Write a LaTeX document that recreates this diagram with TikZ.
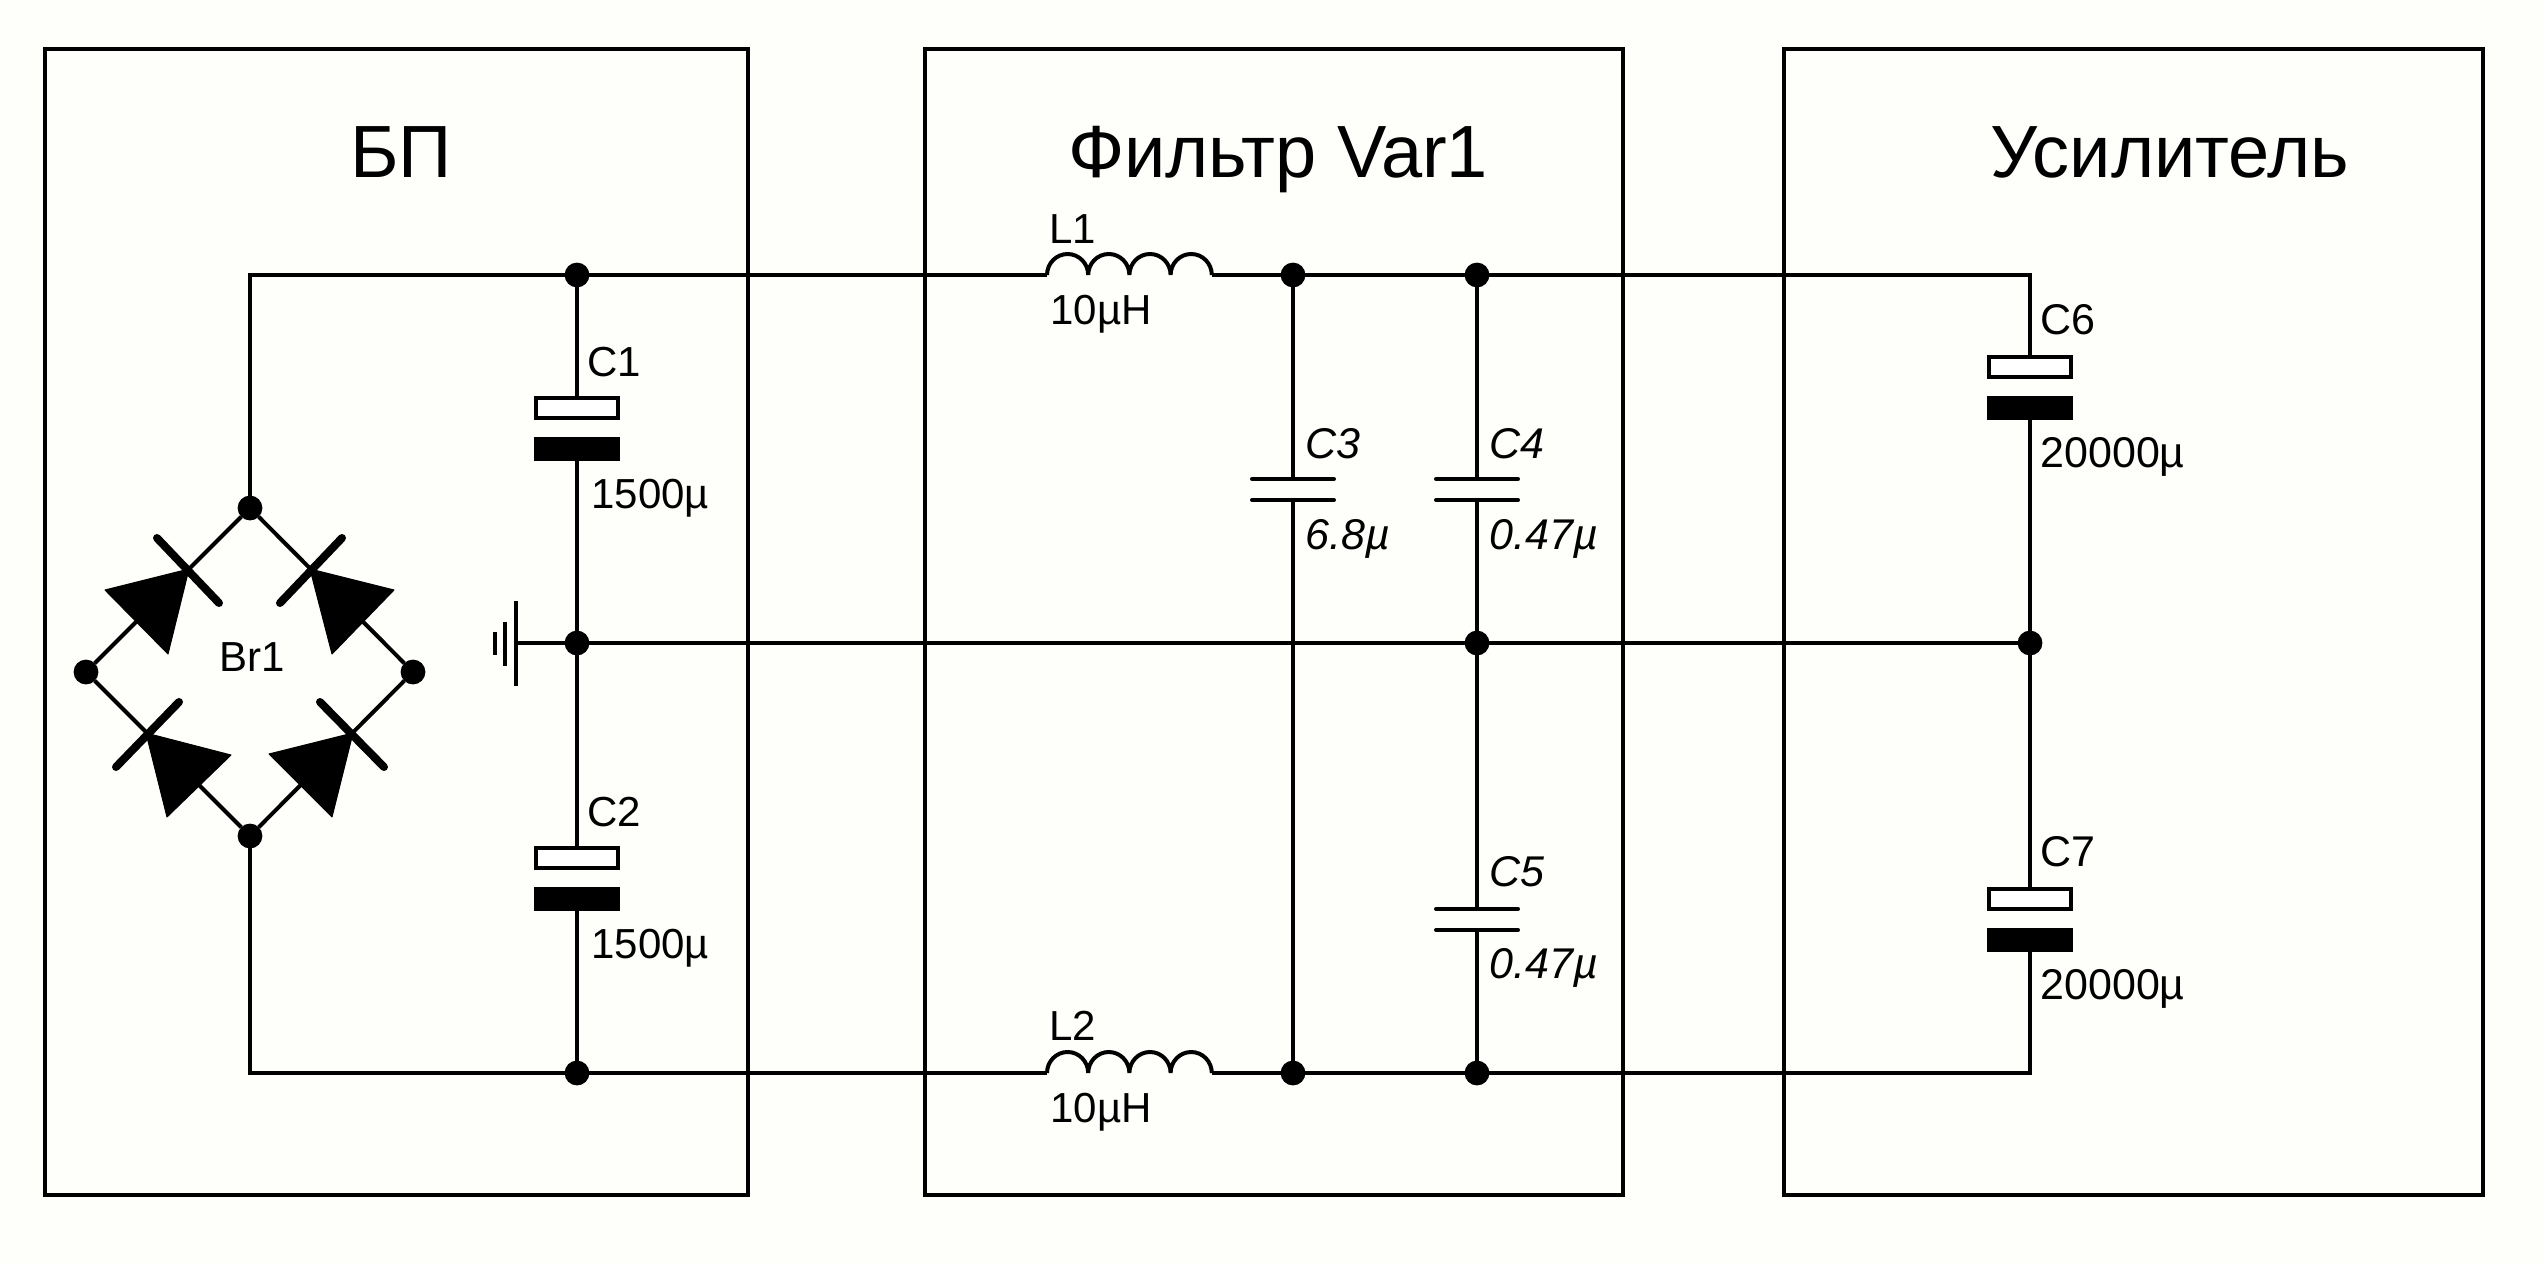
\documentclass[tikz,border=0pt]{standalone}
\usepackage{fontspec}
\setmainfont{Liberation Sans}
\definecolor{bgc}{RGB}{254,255,250}
\tikzset{
  wire/.style={line width=2pt,line cap=butt,line join=miter},
  dot/.style={circle,fill=black,draw=none,minimum size=12.4pt,inner sep=0pt,outer sep=0pt},
  capw/.style={rectangle,draw=black,fill=white,line width=2pt,minimum width=41pt,minimum height=10pt,inner sep=0pt,outer sep=1pt},
  capb/.style={rectangle,fill=black,minimum width=43pt,minimum height=12pt,inner sep=0pt,outer sep=0pt},
  plate/.style={line width=2pt,line cap=round},
  bar/.style={line width=4pt,line cap=round},
  tri/.style={fill=black,line join=round,line width=0.5pt,draw=black},
  title/.style={font=\fontsize{37}{43}\selectfont,anchor=base,inner sep=0pt},
  lab/.style={font=\fontsize{21.5}{25}\selectfont,anchor=base west,inner sep=0pt},
  slab/.style={font=\fontsize{21}{25}\selectfont,anchor=base west,inner sep=0pt},
  ilab/.style={font=\fontsize{21.5}{25}\selectfont\itshape,anchor=base west,inner sep=0pt},
}
\begin{document}
\begin{tikzpicture}[x=0.5pt,y=-0.5pt]
\useasboundingbox (0,0) rectangle (2543,1264);
\fill[bgc] (0,0) rectangle (2543,1264);
% frames
\draw[line width=2.2pt] (45,49) rectangle (748,1195);
\draw[line width=2.2pt] (925,49) rectangle (1623,1195);
\draw[line width=2.2pt] (1784,49) rectangle (2483,1195);
% titles
\node[title] (tBP) at (401,177) {БП};
\node[title] (tF) at (1278,177) {Фильтр Var1};
\node[title] (tU) at (2170,177) {Усилитель};
% junctions and points
\coordinate (cTL) at (250,275);
\coordinate (cBL) at (250,1073);
\coordinate (cTR) at (2030,275);
\coordinate (cBR) at (2030,1073);
\node[dot] (j1t) at (577,275) {};
\node[dot] (j1m) at (577,643) {};
\node[dot] (j1b) at (577,1073) {};
\node[dot] (j3t) at (1293,275) {};
\node[dot] (j3b) at (1293,1073) {};
\node[dot] (j4t) at (1477,275) {};
\node[dot] (j4m) at (1477,643) {};
\node[dot] (j4b) at (1477,1073) {};
\node[dot] (j6m) at (2030,643) {};
\node[dot] (brT) at (250,508) {};
\node[dot] (brL) at (86,672) {};
\node[dot] (brR) at (413,672) {};
\node[dot] (brB) at (250,836) {};
% inductor end points
\coordinate (l1a) at (1047,275);
\coordinate (l1b) at (1212,275);
\coordinate (l2a) at (1047,1073);
\coordinate (l2b) at (1212,1073);
% electrolytic capacitors
\node[capw] (c1w) at (577,408) {};
\node[capb] (c1b) at (577,449) {};
\node[capw] (c2w) at (577,858) {};
\node[capb] (c2b) at (577,899) {};
\node[capw] (c6w) at (2030,367) {};
\node[capb] (c6b) at (2030,408) {};
\node[capw] (c7w) at (2030,899) {};
\node[capb] (c7b) at (2030,940) {};
% film capacitors
\coordinate (c3a) at (1293,479);
\coordinate (c3b) at (1293,500);
\coordinate (c4a) at (1477,479);
\coordinate (c4b) at (1477,500);
\coordinate (c5a) at (1477,909);
\coordinate (c5b) at (1477,930);
\foreach \p in {c3a,c3b,c4a,c4b,c5a,c5b}{
  \draw[plate] (\p) ++(-41,0) -- ++(82,0);
}
% ground
\coordinate (gnd) at (516,643);
\draw[line width=1.7pt] (516,601) -- (516,686);
\draw[line width=1.7pt] (505,622) -- (505,666);
\draw[line width=1.7pt] (495,632) -- (495,655);
% wires
\draw[wire] (l1b) -- (j3t);
\draw[wire] (j3t) -- (j4t);
\draw[wire] (j4t) -- (cTR) -- (c6w);
\draw[wire] (brT) -- (cTL) -- (j1t);
\draw[wire] (j1t) -- (l1a);
\draw[wire] (brB) -- (cBL) -- (j1b);
\draw[wire] (j1b) -- (l2a);
\draw[wire] (l2b) -- (j3b);
\draw[wire] (j3b) -- (j4b);
\draw[wire] (j4b) -- (cBR) -- (c7b);
\draw[wire] (j1t) -- (c1w);
\draw[wire] (c1b) -- (j1m);
\draw[wire] (j1m) -- (c2w);
\draw[wire] (c2b) -- (j1b);
\draw[wire] (gnd) -- (j1m);
\draw[wire] (j1m) -- (j4m);
\draw[wire] (j4m) -- (j6m);
\draw[wire] (c6b) -- (j6m);
\draw[wire] (j6m) -- (c7w);
\draw[wire] (j3t) -- (c3a);
\draw[wire] (c3b) -- (j3b);
\draw[wire] (j4t) -- (c4a);
\draw[wire] (c4b) -- (j4m);
\draw[wire] (j4m) -- (c5a);
\draw[wire] (c5b) -- (j4b);
% inductors
\foreach \a in {l1a,l2a}{
  \draw[wire] (\a) ++(0,0) arc[start angle=180,end angle=0,x radius=20.6,y radius=-21]
    arc[start angle=180,end angle=0,x radius=20.6,y radius=-21]
    arc[start angle=180,end angle=0,x radius=20.6,y radius=-21]
    arc[start angle=180,end angle=0,x radius=20.6,y radius=-21];
}
% bridge
\draw[wire] (brT) -- (brL);
\draw[wire] (brT) -- (brR);
\draw[wire] (brB) -- (brL);
\draw[wire] (brB) -- (brR);
\fill[tri] (189,569) -- (105,590) -- (168,654) -- cycle;
\draw[bar] (157,538) -- (219,603);
\fill[tri] (310,569) -- (394,590) -- (332,654) -- cycle;
\draw[bar] (342,538) -- (280,603);
\fill[tri] (146,733) -- (231,755) -- (167,817) -- cycle;
\draw[bar] (179,702) -- (116,767);
\fill[tri] (353,733) -- (269,754) -- (332,817) -- cycle;
\draw[bar] (320,702) -- (384,767);
% labels
\node[slab] (nBr) at (219,671) {Br1};
\node[slab] (nC1) at (587,376) {C1};
\node[slab] (vC1) at (591,508) {1500µ};
\node[slab] (nC2) at (587,826) {C2};
\node[slab] (vC2) at (591,958) {1500µ};
\node[slab] (nL1) at (1049,243) {L1};
\node[slab] (vL1) at (1050,324) {10µH};
\node[slab] (nL2) at (1049,1040) {L2};
\node[slab] (vL2) at (1050,1122) {10µH};
\node[ilab] (nC3) at (1305,458) {C3};
\node[ilab] (vC3) at (1305,549) {6.8µ};
\node[ilab] (nC4) at (1489,458) {C4};
\node[ilab] (vC4) at (1489,549) {0.47µ};
\node[ilab] (nC5) at (1489,886) {C5};
\node[ilab] (vC5) at (1489,978) {0.47µ};
\node[lab] (nC6) at (2040,334) {C6};
\node[lab] (vC6) at (2040,467) {20000µ};
\node[lab] (nC7) at (2040,866) {C7};
\node[lab] (vC7) at (2040,999) {20000µ};
\end{tikzpicture}
\end{document}
